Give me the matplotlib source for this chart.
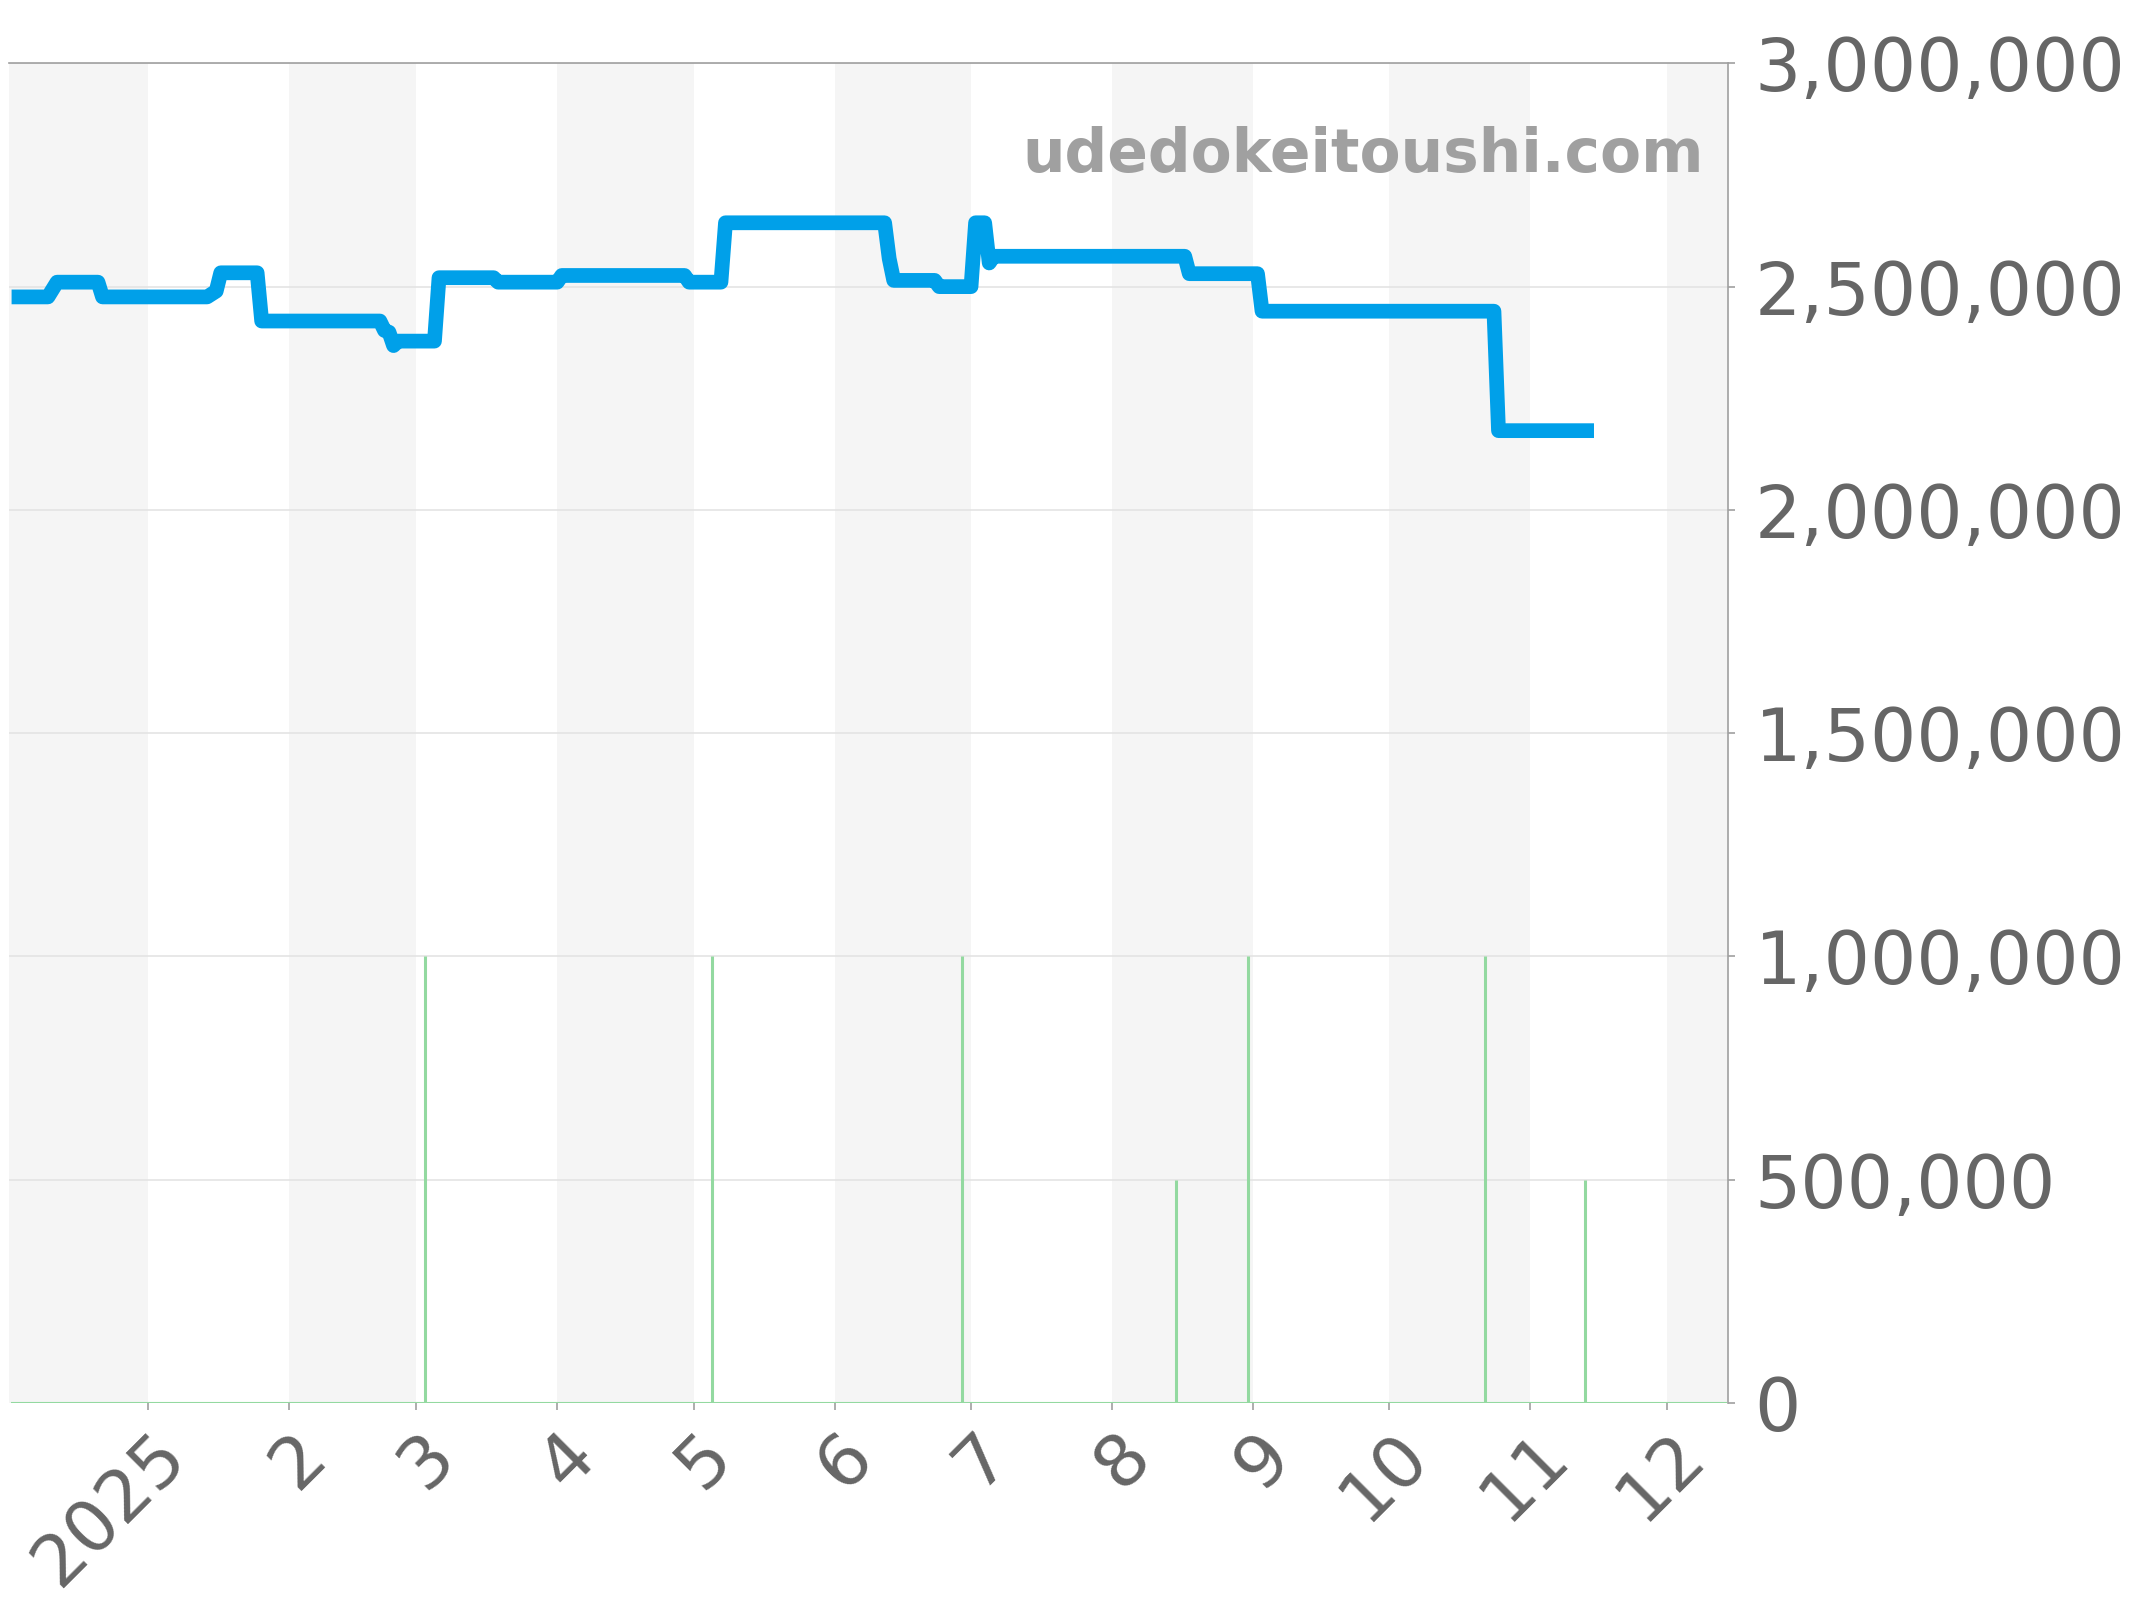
import matplotlib
matplotlib.use("Agg")
import matplotlib.pyplot as plt
import matplotlib.transforms as mtransforms
from matplotlib.ticker import FuncFormatter, MultipleLocator
import numpy as np
import pandas as pd

# price line (change points, daily data)
price_dates = [
    "2024-12-02", "2024-12-10", "2024-12-12", "2024-12-21", "2024-12-22",
    "2025-01-14", "2025-01-16", "2025-01-17", "2025-01-25", "2025-01-26",
    "2025-02-21", "2025-02-22", "2025-02-23", "2025-02-24", "2025-02-25",
    "2025-03-05", "2025-03-06", "2025-03-18", "2025-03-19",
    "2025-04-01", "2025-04-02", "2025-04-29", "2025-04-30",
    "2025-05-07", "2025-05-08", "2025-06-12", "2025-06-13", "2025-06-14",
    "2025-06-23", "2025-06-24", "2025-07-01", "2025-07-02", "2025-07-04",
    "2025-07-05", "2025-07-06", "2025-08-17", "2025-08-18",
    "2025-09-02", "2025-09-03", "2025-10-24", "2025-10-25", "2025-11-15",
]
price_values = [
    2477000, 2477000, 2510000, 2510000, 2477000,
    2477000, 2490000, 2531000, 2531000, 2423000,
    2423000, 2402000, 2398000, 2368000, 2378000,
    2378000, 2520000, 2520000, 2510000,
    2510000, 2525000, 2525000, 2510000,
    2510000, 2643000, 2643000, 2563000, 2514000,
    2514000, 2500000, 2500000, 2643000, 2643000,
    2553000, 2568000, 2568000, 2529000,
    2529000, 2445000, 2445000, 2177500, 2177500,
]

# volume-like green bars
bar_dates = ["2025-03-03", "2025-05-05", "2025-06-29", "2025-08-15",
             "2025-08-31", "2025-10-22", "2025-11-13"]
bar_values = [1000000, 1000000, 1000000, 500000, 1000000, 1000000, 500000]

month_labels = ["2025", "2", "3", "4", "5", "6", "7", "8", "9", "10", "11", "12"]

BLUE = "#00a0e9"
GREEN = "#93d9a0"
BAND = "#f5f5f5"
TEXT = "#666666"
AXIS = "#a0a0a0"

x_start = pd.Timestamp("2024-12-01 13:00")
x_end = pd.Timestamp("2025-12-14 12:00")

fig = plt.figure(figsize=(21.44, 16), dpi=100)
ax = fig.add_axes([0.00443, 0.1231, 0.8016, 0.8373])

# alternating month bands
months = pd.date_range("2024-12-01", "2026-01-01", freq="MS")
for i in range(len(months) - 1):
    if i % 2 == 0:
        ax.axvspan(months[i], months[i + 1], color=BAND, lw=0, zorder=0)

for v in np.arange(500000, 3000001, 500000):
    ax.axhline(v, color="#e4e4e4", lw=1.2, zorder=1)

# zero line of the bar series
ax.plot([pd.Timestamp("2024-12-02"), pd.Timestamp("2025-12-14")], [0, 0],
        color=GREEN, lw=1.5, zorder=2)
ax.vlines(pd.to_datetime(bar_dates), 0, bar_values, color=GREEN, lw=2.2, zorder=2)

ax.plot(pd.to_datetime(price_dates), price_values, color=BLUE, lw=10.6,
        solid_joinstyle="round", solid_capstyle="butt", zorder=3)

ax.set_xlim(x_start, x_end)
ax.set_ylim(0, 3000000)

ax.yaxis.set_major_locator(MultipleLocator(500000))
ax.yaxis.set_major_formatter(FuncFormatter(lambda v, p: f"{v:,.0f}"))
ax.yaxis.tick_right()
ax.tick_params(axis="y", which="major", length=5, width=1.2, color=AXIS,
               labelsize=52.5, labelcolor=TEXT, pad=14)

tick_pos = pd.date_range("2025-01-01", "2025-12-01", freq="MS")
ax.set_xticks(tick_pos)
ax.set_xticklabels(month_labels)
ax.tick_params(axis="x", length=5, width=1.2, color=AXIS,
               labelsize=52, labelcolor=TEXT, pad=25)
shift = mtransforms.ScaledTranslation(0.27, 0.0, fig.dpi_scale_trans)
for lab in ax.get_xticklabels():
    lab.set_rotation(45)
    lab.set_rotation_mode("anchor")
    lab.set_ha("right")
    lab.set_va("center")
    lab.set_transform(lab.get_transform() + shift)

for side in ["left", "bottom"]:
    ax.spines[side].set_visible(False)
for side in ["top", "right"]:
    ax.spines[side].set_color(AXIS)
    ax.spines[side].set_linewidth(1.2)

ax.text(0.986, 0.9189, "udedokeitoushi.com", transform=ax.transAxes,
        ha="right", va="baseline", fontsize=43, fontweight="bold",
        color="#a0a0a0", zorder=4)

fig.savefig("out.png", dpi=100)
